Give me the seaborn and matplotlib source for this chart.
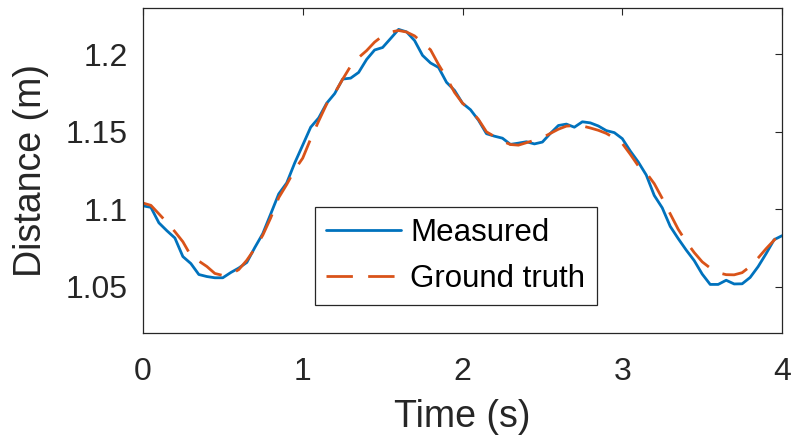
import numpy as np
import pandas as pd
import seaborn as sns
import matplotlib.pyplot as plt

# --- dane (krok 0.05 s) ---
time_s = np.round(np.arange(0, 4.0001, 0.05), 2)

measured = [
    1.1022, 1.1012, 1.0912, 1.0861, 1.0814, 1.0694, 1.0649, 1.0578, 1.0565, 1.0557,
    1.0557, 1.0591, 1.0620, 1.0656, 1.0752, 1.0842, 1.0970, 1.1099, 1.1170, 1.1299,
    1.1414, 1.1530, 1.1590, 1.1685, 1.1747, 1.1841, 1.1847, 1.1884, 1.1968, 1.2029,
    1.2045, 1.2103, 1.2162, 1.2146, 1.2090, 1.1994, 1.1945, 1.1916, 1.1820, 1.1768,
    1.1685, 1.1643, 1.1575, 1.1488, 1.1472, 1.1459, 1.1419, 1.1427, 1.1436, 1.1422,
    1.1434, 1.1490, 1.1541, 1.1550, 1.1530, 1.1565, 1.1558, 1.1538, 1.1508, 1.1495,
    1.1456, 1.1376, 1.1305, 1.1221, 1.1089, 1.1009, 1.0889, 1.0810, 1.0736, 1.0668,
    1.0581, 1.0514, 1.0514, 1.0541, 1.0517, 1.0518, 1.0559, 1.0629, 1.0713, 1.0803,
    1.0829,
]

ground_truth = [
    1.1040, 1.1025, 1.0970, 1.0915, 1.0855, 1.0790, 1.0700, 1.0665, 1.0630, 1.0585,
    1.0572, 1.0580, 1.0610, 1.0670, 1.0745, 1.0832, 1.0945, 1.1075, 1.1160, 1.1255,
    1.1330, 1.1455, 1.1570, 1.1680, 1.1750, 1.1840, 1.1925, 1.1980, 1.2025, 1.2080,
    1.2120, 1.2145, 1.2155, 1.2145, 1.2120, 1.2075, 1.2030, 1.1935, 1.1850, 1.1755,
    1.1685, 1.1640, 1.1580, 1.1500, 1.1470, 1.1440, 1.1418, 1.1414, 1.1430, 1.1445,
    1.1462, 1.1490, 1.1517, 1.1537, 1.1540, 1.1538, 1.1525, 1.1510, 1.1490, 1.1460,
    1.1425, 1.1355, 1.1280, 1.1235, 1.1165, 1.1070, 1.0970, 1.0870, 1.0790, 1.0720,
    1.0660, 1.0620, 1.0590, 1.0577, 1.0576, 1.0590, 1.0630, 1.0685, 1.0745, 1.0800,
    1.0850,
]

series_names = ['Measured', 'Ground truth']
series_colors = {'Measured': '#0072BD', 'Ground truth': '#D95319'}

df = pd.concat([
    pd.DataFrame({'Time': time_s, 'Distance': measured, 'Series': series_names[0]}),
    pd.DataFrame({'Time': time_s, 'Distance': ground_truth, 'Series': series_names[1]}),
], ignore_index=True)

sns.set_theme(style='white')
plt.rcParams['font.family'] = ['Liberation Sans', 'DejaVu Sans']
plt.rcParams['axes.edgecolor'] = '#262626'
plt.rcParams['xtick.color'] = '#262626'
plt.rcParams['ytick.color'] = '#262626'

fig = plt.figure(figsize=(7.94, 4.47), dpi=100)
ax = fig.add_axes([0.180, 0.255, 0.805, 0.727])

sns.lineplot(data=df, x='Time', y='Distance', hue='Series', style='Series',
             palette=series_colors, dashes={'Measured': '', 'Ground truth': (9.5, 5.5)},
             estimator=None, linewidth=2.0, ax=ax)

ax.set_xlim(0, 4)
ax.set_ylim(1.02, 1.23)
ax.set_xticks([0, 1, 2, 3, 4])
ax.set_yticks([1.05, 1.1, 1.15, 1.2])
ax.set_yticklabels(['1.05', '1.1', '1.15', '1.2'])
ax.tick_params(direction='in', length=5, width=0.8, top=True, right=True,
               labelsize=23, labelcolor='#262626')
ax.tick_params(axis='x', pad=17)
ax.tick_params(axis='y', pad=11)
for sp in ax.spines.values():
    sp.set_linewidth(0.9)
    sp.set_color('#262626')

ax.set_xlabel('Time (s)', fontsize=27, color='#262626', labelpad=9)
ax.set_ylabel('Distance (m)', fontsize=27, color='#262626', labelpad=12)

handles, labels = ax.get_legend_handles_labels()
leg = ax.legend(handles, labels, loc='upper left', bbox_to_anchor=(0.269, 0.388),
                borderaxespad=0, fontsize=22.5, handlelength=2.4, handletextpad=0.3,
                labelspacing=0.5, borderpad=0.36, fancybox=False, framealpha=1,
                edgecolor='#262626')
leg.get_frame().set_linewidth(0.9)
for t in leg.get_texts():
    t.set_color('black')

plt.savefig('out.png', dpi=100)
plt.close()
